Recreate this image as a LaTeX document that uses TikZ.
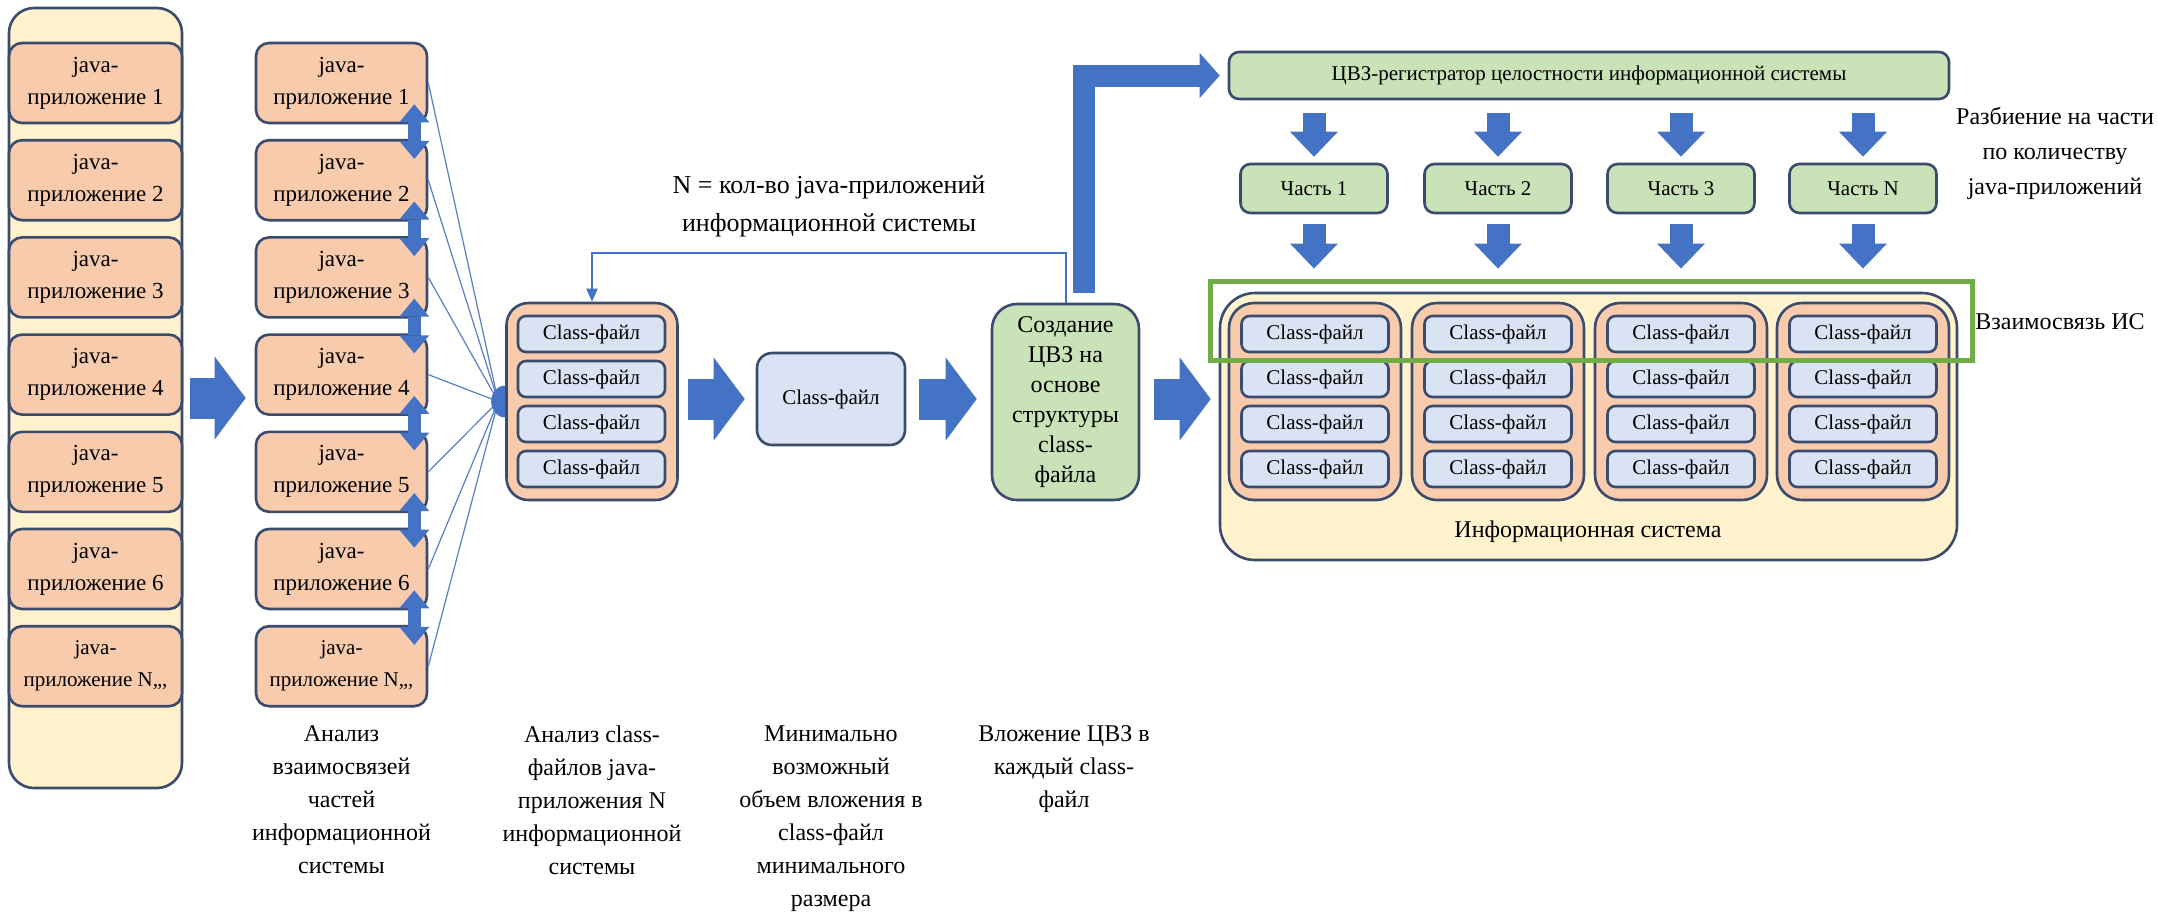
\documentclass[tikz,border=0pt]{standalone}
\usepackage{fontspec}
\setmainfont{Liberation Serif}
\usetikzlibrary{arrows.meta,calc}

\definecolor{edge}{HTML}{3A4B6E}
\definecolor{salmon}{HTML}{F8CBAD}
\definecolor{cream}{HTML}{FFF2CC}
\definecolor{paleblue}{HTML}{DAE3F3}
\definecolor{palegreen}{HTML}{C9E2B8}
\definecolor{flowblue}{HTML}{4472C4}
\definecolor{framegreen}{HTML}{70AD47}
\definecolor{fanline}{HTML}{5B7EC2}

\newcommand\fsz[2]{\fontsize{#1}{#2}\selectfont}

\begin{document}
\begin{tikzpicture}[x=0.5pt,y=-0.5pt,
  box/.style={draw=edge,line width=1.3pt,align=center,inner sep=0pt},
  panel/.style={box,fill=cream,rounded corners=12.5pt},
  appbox/.style={box,fill=salmon,rounded corners=6.5pt,minimum height=40pt,font=\fsz{11.5}{16}},
  filebox/.style={box,fill=paleblue,rounded corners=4pt,minimum width=73.5pt,minimum height=18pt,font=\fsz{10.5}{12}},
  groupbox/.style={box,fill=salmon,rounded corners=11pt,minimum width=85.5pt,minimum height=98.5pt},
  greenbox/.style={box,fill=palegreen,rounded corners=5pt,font=\fsz{10.5}{12}},
  caption/.style={align=center,inner sep=0pt,font=\fsz{12}{16.5}},
  blockarrow/.style={draw=flowblue,line width=20.5pt,
    -{Triangle[width=41.5pt,length=15.5pt,line width=0pt]}},
  downarrow/.style={draw=flowblue,line width=11.5pt,
    -{Triangle[width=24pt,length=12.5pt,line width=0pt]}},
  linkarrow/.style={draw=flowblue,line width=6.5pt,
    {Triangle[width=15pt,length=9pt,line width=0pt]}-{Triangle[width=15pt,length=9pt,line width=0pt]},
    shorten <=-10pt,shorten >=-10pt},
  fan/.style={draw=fanline,line width=0.6pt},
]
\fill[white] (0,0) rectangle (2158,918);
\useasboundingbox (0,0) rectangle (2158,918);

% ---------- all java applications ----------
\node[panel,minimum width=86.5pt,minimum height=390pt] (LC) at (95.5,398) {};
\foreach \i in {1,...,6}
  \node[appbox,minimum width=86.5pt] (L\i) at (95.5,{83+97.2*(\i-1)}) {java-\\приложение \i};
\node[appbox,minimum width=86.5pt,font=\fsz{10.5}{16}] (L7) at (95.5,666.2) {java-\\приложение N,,,};

% ---------- analysis of the links between parts ----------
\foreach \i in {1,...,6}
  \node[appbox,minimum width=85.5pt] (M\i) at (341.5,{83+97.2*(\i-1)}) {java-\\приложение \i};
\node[appbox,minimum width=85.5pt,font=\fsz{10.5}{16}] (M7) at (341.5,666.2) {java-\\приложение N,,,};

\draw[blockarrow,shorten <=3.5pt,shorten >=4.5pt] (LC.east) -- (LC.east -| M4.west);

% ---------- class files of application N ----------
\node[groupbox] (C) at (592,401.5) {};
\foreach \r [count=\k] in {334,379,424,469}
  \node[filebox] (C\k) at (591.5,\r) {Class-файл};

\coordinate (hub) at ([xshift=-3.5pt]C.west);
\foreach \i in {1,...,7}
  \draw[fan] (M\i.east) -- (hub);
\fill[flowblue] ([yshift=8pt]C.west) arc[start angle=90,end angle=270,x radius=7pt,y radius=8pt] -- cycle;

\foreach \i [evaluate=\i as \j using int(\i+1)] in {1,...,6}
  \draw[linkarrow] ([xshift=-7pt]M\i.south east) -- ([xshift=-7pt]M\j.north east);

% ---------- minimal class file ----------
\node[box,fill=paleblue,rounded corners=7.5pt,minimum width=74pt,minimum height=46pt,font=\fsz{10.5}{13}] (S) at (831,399) {Class-файл};
\draw[blockarrow,shorten <=4.5pt,shorten >=5.5pt] (C.east |- S.west) -- (S.west);

% ---------- watermark creation ----------
\node[greenbox,rounded corners=12.5pt,minimum width=73.5pt,minimum height=98pt,font=\fsz{12}{15}] (Z) at (1065.5,402)
  {Создание\\ЦВЗ на\\основе\\структуры\\class-\\файла};
\draw[blockarrow,shorten <=6.5pt,shorten >=7pt] (S.east) -- (S.east -| Z.west);

\coordinate (loop) at ($(C.north)+(0,-49)$);
\draw[flowblue,line width=1pt,-{Triangle[width=5.5pt,length=6.5pt]}] (Z.north) |- (loop) -- (C.north);
\node[caption,font=\fsz{13}{19}] (Nlabel) at (829,206) {N = кол-во java-приложений\\информационной системы};

% ---------- information system ----------
\node[panel,rounded corners=17.5pt,minimum width=368.5pt,minimum height=133.5pt] (I) at (1588.5,426.5) {};
\draw[blockarrow,shorten <=7pt,shorten >=4pt] (Z.east |- S.east) -- (I.west |- S.east);
\foreach \cx [count=\c] in {1315,1498,1681,1863} {
  \node[groupbox,rounded corners=12.5pt,minimum width=86pt] (K\c) at (\cx,401.5) {};
  \foreach \r [count=\k] in {334,379,424,469}
    \node[filebox] (K\c-\k) at (\cx,\r) {Class-файл};
}
\node[caption,font=\fsz{12}{14}] (Ilabel) at (1588,532) {Информационная система};
\node[draw=framegreen,line width=2.5pt,inner sep=0pt,minimum width=381pt,minimum height=39.5pt] (G) at (1591,320.5) {};
\node[caption,font=\fsz{12}{14}] (Glabel) at (2060,322) {Взаимосвязь ИС};

% ---------- integrity registrar and its parts ----------
\node[greenbox,minimum width=360pt,minimum height=23.5pt] (R) at (1589,75.5) {ЦВЗ-регистратор целостности информационной системы};
\draw[draw=flowblue,line width=11pt,line join=miter,
  -{Triangle[width=22.5pt,length=10pt,line width=0pt]},shorten <=5pt,shorten >=4pt]
  ([xshift=9.25pt]Z.north) |- (R.west);

\foreach \cx/\t [count=\c] in {1314/1,1498/2,1681/3,1863/N} {
  \node[greenbox,minimum width=73.5pt,minimum height=24.5pt] (P\c) at (\cx,188.5) {Часть \t};
  \draw[downarrow,shorten <=6.5pt,shorten >=3pt] (P\c.north |- R.south) -- (P\c.north);
  \draw[downarrow,shorten <=5pt,shorten >=5pt] (P\c.south) -- (P\c.south |- G.north);
}
\node[caption,font=\fsz{12}{17.5}] (Plabel) at (2055,153) {Разбиение на части\\по количеству\\java-приложений};

% ---------- step captions ----------
\node[caption,anchor=north] (cap1) at (341.5,725) {Анализ\\взаимосвязей\\частей\\информационной\\системы};
\node[caption,anchor=north] (cap2) at (592,725) {Анализ class-\\файлов java-\\приложения N\\информационной\\системы};
\node[caption,anchor=north] (cap3) at (831,725) {Минимально\\возможный\\объем вложения в\\class-файл\\минимального\\размера};
\node[caption,anchor=north] (cap4) at (1064,725) {Вложение ЦВЗ в\\каждый class-\\файл};
\end{tikzpicture}
\end{document}
